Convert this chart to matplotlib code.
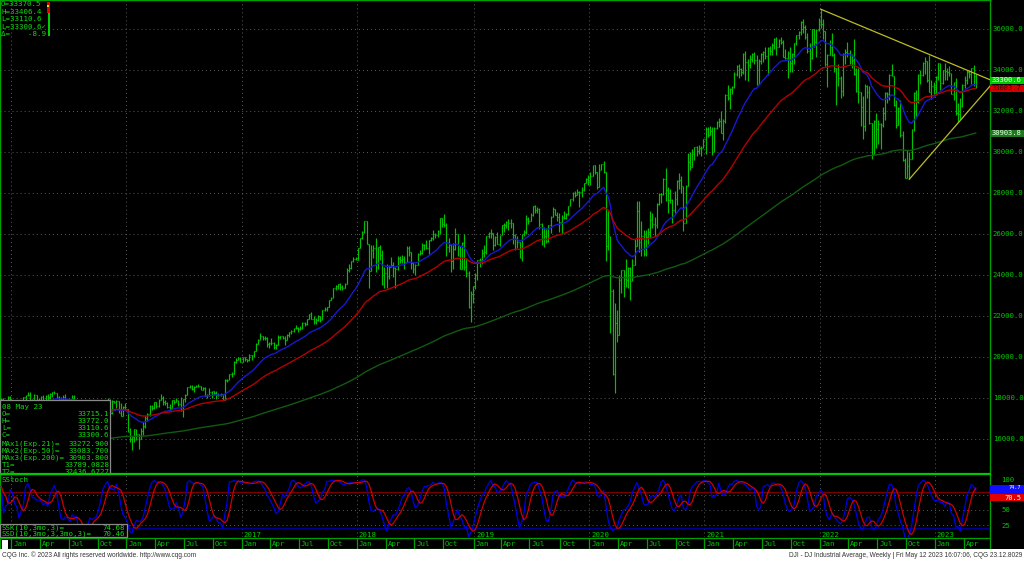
import numpy as np
import pandas as pd
import matplotlib
matplotlib.use("Agg")
import matplotlib.pyplot as plt
import matplotlib.dates as mdates
import matplotlib.transforms as mtrans
from matplotlib.collections import LineCollection
from matplotlib.patches import Rectangle
from matplotlib.lines import Line2D

plt.rcParams["lines.scale_dashes"] = False

# ---------------- data: DJI weekly bars, week of 2014-12-01 .. week of 2023-05-08 ----------------
LAST_WEEK = "2023-05-08"
PRIOR_CLOSE = 17828.0      # close of the week before the first bar
LAST_OPEN = 33715.1        # open of the current week (from the data box)

CLOSE = [
    # Dec 2014
    17958, 17281, 17805, 18053, 17833,
    # 2015
    17737, 17511, 17673, 17165, 17825, 18019, 18140, 18133, 17856, 17749, 18128, 17713, 17763,
    18058, 17826, 18080, 18024, 18191, 18272, 18232, 18011, 17849, 17899, 18015, 17947, 17730,
    17760, 18086, 17568, 17690, 17373, 17477, 16460, 16643, 16102, 16433, 16385, 16315, 16472,
    17084, 17216, 17647, 17664, 17910, 17245, 17824, 17798, 17848, 17265, 17128, 17552, 17425,
    # 2016
    16347, 15988, 16094, 16466, 16205, 15974, 16392, 16640, 17007, 17213, 17602, 17516, 17793,
    17577, 17898, 18004, 17774, 17741, 17535, 17501, 17873, 17807, 17865, 17675, 17401, 17949,
    18147, 18517, 18571, 18432, 18544, 18577, 18553, 18395, 18492, 18086, 18124, 18262, 18308,
    18240, 18138, 18146, 18161, 17888, 18848, 18868, 19153, 19171, 19757, 19843, 19934, 19763,
    # 2017
    19964, 19886, 19827, 20094, 20071, 20269, 20624, 20822, 21005, 20903, 20915, 20597, 20663,
    20656, 20453, 20548, 20941, 21007, 20897, 20805, 21080, 21206, 21272, 21384, 21395, 21350,
    21414, 21638, 21580, 21830, 22093, 21858, 21675, 21814, 21988, 21798, 22268, 22350, 22405,
    22773, 22871, 23329, 23434, 23539, 23422, 23358, 23558, 24231, 24329, 24652, 24754, 24719,
    # 2018
    25295, 25803, 26072, 26617, 25521, 24191, 25219, 25310, 24538, 25336, 24947, 23533, 24103,
    23933, 24360, 24463, 24311, 24263, 24831, 24715, 24753, 24635, 25317, 25090, 24581, 24271,
    24456, 25019, 25058, 25451, 25463, 25313, 25669, 25790, 25965, 25917, 26155, 26744, 26458,
    26447, 25340, 25444, 24688, 25271, 25989, 25413, 24286, 25538, 24389, 24101, 22445, 23062,
    # 2019 (from week of 2018-12-31)
    23433, 23996, 24706, 24737, 25064, 25106, 25883, 26031, 26026, 25450, 25849, 25502, 25929,
    26425, 26412, 26559, 26543, 26505, 25942, 25764, 25586, 24815, 25984, 26090, 26719, 26600,
    26922, 27332, 27154, 27192, 26485, 26287, 25886, 25629, 26403, 26797, 27220, 26935, 26820,
    26573, 26817, 26770, 26958, 27347, 27681, 28005, 27876, 28051, 28015, 28135, 28455, 28645,
    # 2020 (from week of 2019-12-30)
    28634, 28824, 29348, 28990, 28256, 29103, 29398, 28992, 25409, 25865, 23186, 19174, 21637,
    21053, 23719, 24242, 23775, 23724, 24331, 23685, 24465, 25383, 27111, 25606, 25871, 25016,
    25827, 26075, 26672, 26470, 26428, 27433, 27931, 27930, 28654, 28133, 27666, 27657, 27174,
    27683, 28587, 28606, 28336, 26502, 28323, 29480, 29263, 29910, 30218, 30046, 30179, 30200,
    30606,
    # 2021
    31098, 30814, 30997, 29983, 31148, 31458, 31494, 30932, 31496, 32779, 32628, 33072, 33153,
    33801, 34200, 34043, 33875, 34778, 34382, 34208, 34529, 34756, 34480, 33290, 34434, 34786,
    34870, 34688, 35062, 34935, 35209, 35515, 35120, 35456, 35369, 34608, 34584, 34798, 34326,
    34746, 35295, 35677, 35820, 36328, 36100, 35602, 34899, 34580, 35971, 35365, 35951, 36338,
    # 2022
    36231, 35912, 34265, 34725, 35089, 34738, 34079, 34059, 33615, 32945, 34755, 34862, 34818,
    34721, 34451, 33811, 32977, 32899, 32197, 31262, 33213, 32900, 31393, 29888, 31501, 31097,
    31338, 31289, 31899, 32845, 32803, 33761, 33707, 32283, 31318, 32152, 30822, 29590, 28726,
    29297, 29635, 31083, 32862, 32403, 33748, 33746, 34347, 34430, 33476, 32920, 33204, 33147,
    # 2023
    33631, 34303, 33375, 33978, 33926, 33869, 33827, 32817, 33391, 31910, 31862, 32238, 33274,
    33485, 33886, 33809, 34098, 33675, 33300.6,
]

HIGH = [
    17991, 17991, 17840, 18103, 18080,
    17910, 17800, 17900, 17720, 17900, 18030, 18150, 18290, 18260, 17930, 18170, 18140, 18000,
    18070, 18110, 18140, 18175, 18220, 18300, 18351, 18250, 18100, 18050, 18140, 18170, 17960,
    17800, 18130, 18120, 17770, 17700, 17640, 17510, 16660, 16700, 16480, 16930, 16520, 16500,
    17100, 17230, 17680, 17800, 17980, 17920, 17900, 17860, 17900, 17850, 17760, 17600, 17750,
    17420, 16500, 16100, 16490, 16470, 16200, 16500, 16800, 17100, 17230, 17620, 17620, 17800,
    17800, 17950, 18170, 18070, 17900, 17780, 17700, 17900, 17900, 18000, 17860, 18010, 17960,
    18170, 18540, 18620, 18600, 18550, 18640, 18670, 18560, 18500, 18530, 18200, 18450, 18350,
    18340, 18320, 18250, 18250, 18170, 18900, 18930, 19170, 19230, 19770, 19950, 19990, 19990,
    19999, 19980, 19900, 20125, 20090, 20300, 20650, 20850, 21170, 21000, 21000, 20950, 20730,
    20890, 20700, 20620, 21070, 21030, 21020, 21000, 21110, 21220, 21300, 21400, 21530, 21460,
    21480, 21680, 21680, 21850, 22100, 22180, 22000, 21900, 22010, 21990, 22280, 22420, 22420,
    22780, 22900, 23360, 23490, 23560, 23600, 23480, 23600, 24330, 24530, 24670, 24880, 24840,
    25300, 25810, 26150, 26620, 26440, 25520, 25430, 25430, 25800, 25350, 25450, 25200, 24400,
    24500, 24480, 24860, 24640, 24400, 24900, 24900, 24980, 24900, 25400, 25400, 25100, 24600,
    24500, 25060, 25200, 25550, 25500, 25700, 25700, 25850, 26170, 26050, 26170, 26770, 26700,
    26950, 26500, 25800, 25500, 25550, 26280, 26000, 25420, 25600, 25980, 24800, 24200, 23200,
    23470, 24100, 24720, 24800, 25250, 25440, 25900, 26100, 26240, 26000, 25900, 26100, 25950,
    26430, 26500, 26600, 26700, 26700, 26200, 26000, 25900, 25500, 26000, 26200, 26900, 26800,
    27000, 27350, 27400, 27300, 27230, 26500, 26350, 26260, 26440, 26840, 27300, 27200, 27080,
    27000, 26900, 27120, 27000, 27350, 27700, 28050, 28100, 28170, 28100, 28290, 28480, 28700,
    28880, 29010, 29370, 29370, 29000, 29400, 29420, 29568, 28900, 27100, 25900, 23300, 22600,
    22300, 24000, 24250, 24000, 24760, 24400, 24400, 24770, 25760, 27580, 27600, 26600, 26200,
    26200, 26300, 27100, 27000, 26800, 27500, 28000, 28000, 28700, 29200, 28300, 28200, 27700,
    28100, 28600, 28950, 28800, 28300, 28400, 29930, 30000, 30120, 30250, 30300, 30330, 30300,
    30640,
    31190, 31200, 31270, 31200, 31200, 31500, 31650, 32000, 31600, 32800, 33230, 33100, 33200,
    33900, 34250, 34300, 34100, 34810, 34900, 34500, 34700, 34800, 34850, 34700, 34500, 34800,
    34900, 35100, 35100, 35170, 35300, 35560, 35600, 35500, 35600, 35450, 35000, 34900, 35100,
    34800, 35300, 35700, 35900, 36400, 36450, 36180, 35800, 35300, 36000, 36000, 36000, 36530,
    36952, 36450, 35900, 34780, 35450, 35800, 34800, 34100, 34300, 33700, 34800, 35000, 35370,
    34950, 34750, 35500, 34100, 34100, 32900, 32700, 33300, 33250, 33200, 31300, 31550, 31900,
    31530, 31400, 32200, 32900, 32900, 33800, 34280, 33400, 32500, 32200, 32500, 31000, 29700,
    30100, 30000, 31100, 32900, 33000, 33800, 33980, 34400, 34600, 34400, 34700, 33500, 33400,
    33700, 34340, 34300, 34000, 34350, 34100, 34200, 33800, 33400, 33600, 32400, 32600, 33300,
    33700, 34000, 34000, 34100, 34250, 33772.0,
]

LOW = [
    17701, 17271, 17068, 17793, 17730,
    17262, 17136, 17420, 17110, 17037, 17690, 17880, 18080, 17850, 17600, 17740, 17580, 17700,
    17730, 17790, 17800, 17800, 17780, 18020, 18180, 17990, 17800, 17700, 17800, 17890, 17560,
    17460, 17730, 17560, 17400, 17330, 17290, 16450, 15370, 15980, 16100, 16300, 16040, 15940,
    16450, 16860, 17150, 17550, 17650, 17240, 17220, 17720, 17480, 17260, 17120, 17110, 17420,
    16310, 15840, 15450, 15860, 15920, 15500, 16000, 16200, 16500, 16870, 17130, 17420, 17440,
    17480, 17550, 17880, 17660, 17630, 17500, 17330, 17490, 17700, 17800, 17600, 17360, 17060,
    17800, 18140, 18480, 18360, 18280, 18500, 18500, 18360, 18380, 18080, 17990, 18080, 18000,
    18120, 17960, 18080, 18090, 17880, 17900, 18780, 18880, 19000, 19180, 19700, 19850, 19720,
    19780, 19780, 19730, 19780, 19830, 20000, 20300, 20600, 20800, 20800, 20800, 20480, 20410,
    20560, 20400, 20380, 20600, 20860, 20850, 20550, 20800, 20960, 21100, 21200, 21330, 21190,
    21280, 21350, 21500, 21530, 21820, 21840, 21600, 21600, 21740, 21700, 21800, 22230, 22250,
    22420, 22750, 22880, 23230, 23300, 23270, 23240, 23400, 23570, 24130, 24300, 24640, 24700,
    24800, 25280, 25750, 26050, 25490, 23360, 24200, 24800, 24120, 24300, 24700, 23500, 23340,
    23340, 23800, 24400, 23880, 23340, 24250, 24580, 24560, 24300, 24660, 24900, 24270, 24080,
    24000, 24500, 24950, 25000, 25200, 25250, 25000, 25650, 25700, 25800, 25830, 26000, 26350,
    26350, 24900, 25100, 24120, 24280, 25200, 24900, 24270, 24300, 24240, 23880, 22400, 21710,
    22640, 23300, 23750, 24370, 24500, 24880, 25000, 25800, 25800, 25200, 25400, 25480, 25380,
    25980, 26100, 26300, 26200, 26300, 25500, 25200, 25300, 24800, 24680, 25900, 26000, 26450,
    26650, 26850, 27000, 27000, 26250, 25450, 25340, 25570, 25600, 26050, 26800, 26900, 26600,
    26080, 26000, 26700, 26700, 26900, 27400, 27600, 27800, 27870, 27320, 27800, 28100, 28500,
    28400, 28400, 28800, 28900, 28170, 28300, 29100, 28960, 24680, 25200, 21150, 19100, 18213,
    20700, 21100, 23100, 22900, 23400, 23360, 22790, 23700, 24600, 25400, 25130, 24900, 24900,
    24900, 25500, 25800, 26300, 25900, 26300, 27400, 27500, 27900, 27600, 27000, 27500, 26540,
    27000, 27400, 28200, 28000, 26140, 26500, 28400, 29100, 29300, 29600, 29800, 29900, 29800,
    30200,
    29900, 30700, 30800, 29860, 30000, 31100, 31200, 30900, 30550, 31400, 32500, 32100, 32800,
    33100, 33700, 33600, 33700, 33800, 33500, 33470, 34100, 34400, 34300, 33270, 33300, 34300,
    34400, 34500, 33740, 34700, 34700, 35000, 34700, 35100, 35250, 34600, 34500, 33600, 33900,
    33900, 34300, 35200, 35500, 35700, 35800, 35500, 34800, 33950, 34500, 35100, 34600, 35900,
    36050, 35500, 34200, 33150, 34700, 34650, 33900, 32270, 33200, 32630, 32700, 34300, 34600,
    34300, 34100, 33750, 32900, 32400, 31230, 30640, 31000, 32600, 31370, 29650, 29900, 30200,
    30400, 30140, 31200, 31550, 32400, 32500, 33700, 32250, 31160, 31300, 30700, 29560, 28720,
    28700, 28660, 29800, 31000, 31700, 32400, 33300, 33700, 33800, 33400, 32900, 32580, 32800,
    32800, 33500, 33000, 33300, 33500, 33500, 33700, 32800, 32500, 31800, 31430, 31600, 32200,
    33100, 33300, 33600, 33300, 33200, 33110.6,
]

# moving averages: exponential spans and their levels at the left edge of the chart
EMA_SPANS = [21, 50, 200]
EMA_SEEDS = [17500, 17100, 15000]

# trendlines drawn on the chart (date, price)
TREND_UPPER_DATES = ["2022-01-03", "2023-06-22"]
TREND_UPPER_VALUES = [36952, 33510]
TREND_LOWER_DATES = ["2022-10-10", "2023-06-22"]
TREND_LOWER_VALUES = [28660, 33200]

# readouts
QUOTE_LINES = ["O=33370.5", "H=33406.4", "L=33110.6", "L=33300.6\u2713", "\u0394=    -8.9"]
BOX_DATE = "08 May 23"
BOX_LABELS = ["O=", "H=", "L=", "C=", "MAx1(Exp.21)=", "MAx2(Exp.50)=", "MAx3(Exp.200)=", "T1=", "T2="]
BOX_VALUES = ["33715.1", "33772.0", "33110.6", "33300.6", "33272.900", "33083.700", "30903.800",
              "33789.0828", "32436.6727"]
LAST_PRICE = 33300.6
MA2_LAST = 33083.7
MA3_LAST = 30903.8
STOCH_LABELS = ["SSK(10,3mo,3)=", "SSD(10,3mo,3,3mo,3)="]
SSK_LAST = 74.68
SSD_LAST = 70.46
PRICE_TICKS = list(range(16000, 36001, 2000))
STOCH_TICKS = [25, 50, 100]
QUARTER_MONTHS = {1: "Jan", 4: "Apr", 7: "Jul", 10: "Oct"}

# ---------------- derived series ----------------
dates = pd.date_range(end=LAST_WEEK, periods=len(CLOSE), freq="W-MON")
close = pd.Series(CLOSE, index=dates, dtype=float)
opens = close.shift(1)
opens.iloc[0] = PRIOR_CLOSE
opens.iloc[-1] = LAST_OPEN
high = pd.Series(np.maximum(HIGH, np.maximum(opens, close)), index=dates)
low = pd.Series(np.minimum(LOW, np.minimum(opens, close)), index=dates)


def ema(series, span, seed):
    s = pd.concat([pd.Series([float(seed)]), pd.Series(series.values)], ignore_index=True)
    return s.ewm(span=span, adjust=False).mean().iloc[1:].values


emas = [ema(close, n, s) for n, s in zip(EMA_SPANS, EMA_SEEDS)]

# slow stochastic (10, 3, 3): %K smoothed once, %D smoothed twice more
hh = high.rolling(10, min_periods=1).max()
ll = low.rolling(10, min_periods=1).min()
fast_k = 100 * (close - ll) / (hh - ll)
ssk = fast_k.rolling(3, min_periods=1).mean()
ssd = ssk.rolling(3, min_periods=1).mean().rolling(3, min_periods=1).mean()

# ---------------- layout (pixels of a 1024x561 canvas) ----------------
W, H = 1024, 561
PLOT_R = 990
PX_PER_DAY = 0.3164
REF_DATE, REF_PX = "2016-01-04", 127.5
P36K_PX, PX_PER_PT = 28.7, 41.0 / 2000
ST_PX_PER_UNIT = 0.612

GREEN = "#00c800"
TXT = "#10d810"
BAR = "#00c000"
GRID = "#5c5c5c"
DOT = (0, (0.7, 2.2))
MONO = ["DejaVu Sans Mono", "DejaVu Sans"]

fig = plt.figure(figsize=(W / 100, H / 100), dpi=100, facecolor="black")


def fx(px):
    return px / W


def fy(py):
    return 1 - py / H


def axes_px(x0, y0, x1, y1):
    a = fig.add_axes([x0 / W, 1 - y1 / H, (x1 - x0) / W, (y1 - y0) / H])
    a.set_facecolor("black")
    return a


ax = axes_px(0, 0, PLOT_R, 472)
axs = axes_px(0, 475, PLOT_R, 537)
axm = axes_px(0, 538, PLOT_R, 549)

ref = mdates.date2num(pd.Timestamp(REF_DATE))
xlim = (ref - REF_PX / PX_PER_DAY, ref + (PLOT_R - REF_PX) / PX_PER_DAY)
for a in (ax, axs, axm):
    a.set_xlim(*xlim)

ax.set_ylim(36000 - (472 - P36K_PX) / PX_PER_PT, 36000 + P36K_PX / PX_PER_PT)
axs.set_ylim(5.7, 107)
axm.set_ylim(0, 1)

x = mdates.date2num(dates)
d = pd.Series(dates)
first_bars = d.groupby([d.dt.year, d.dt.month]).first()
sep = 3.5
year_ticks = [mdates.date2num(t) - sep for (yy, mm), t in first_bars.items() if mm == 1]
quarter_ticks = [(mdates.date2num(t) - sep, QUARTER_MONTHS[mm], yy)
                 for (yy, mm), t in first_bars.items() if mm in QUARTER_MONTHS]

# ---------------- main price panel ----------------
ax.set_yticks(PRICE_TICKS)
ax.set_yticklabels([f"{t:.1f}" for t in PRICE_TICKS])
ax.set_xticks(year_ticks)
ax.yaxis.tick_right()
ax.tick_params(axis="y", length=0, pad=2.0, labelsize=5.2, labelcolor=GREEN, labelfontfamily="DejaVu Sans Mono")
ax.tick_params(axis="x", length=0, labelbottom=False)
ax.grid(True, color=GRID, linestyle=DOT, linewidth=0.7)
ax.set_axisbelow(True)
for side, sp in ax.spines.items():
    sp.set_color("#00a000")
    sp.set_linewidth(1.0)
ax.spines["bottom"].set_visible(False)

k = 2.6
hl = [[(xi, lo), (xi, hi)] for xi, lo, hi in zip(x, low, high)]
ot = [[(xi - k, o), (xi, o)] for xi, o in zip(x, opens)]
ct = [[(xi, c), (xi + k, c)] for xi, c in zip(x, close)]
ax.add_collection(LineCollection(hl + ot + ct, colors=BAR, linewidths=0.85, zorder=3))

for vals, col in zip(emas, ["#1818d0", "#b40000", "#115a11"]):
    ax.plot(x, vals, color=col, lw=1.0, zorder=4)

for dts, vals in [(TREND_UPPER_DATES, TREND_UPPER_VALUES), (TREND_LOWER_DATES, TREND_LOWER_VALUES)]:
    ax.plot(mdates.date2num(pd.to_datetime(dts)), vals, color="#bcbc24", lw=0.9, zorder=5)

# ---------------- stochastic panel ----------------
axs.set_xticks(year_ticks)
axs.set_yticks(STOCH_TICKS)
axs.set_yticklabels([str(t) for t in STOCH_TICKS])
axs.yaxis.tick_right()
axs.tick_params(axis="y", length=0, pad=8, labelsize=5.2, labelcolor=GREEN, labelfontfamily="DejaVu Sans Mono")
axs.tick_params(axis="x", length=0, labelbottom=False)
axs.grid(True, axis="x", color=GRID, linestyle=DOT, linewidth=0.7)
for lvl in (25, 50, 75):
    axs.axhline(lvl, color=GRID, linestyle=DOT, linewidth=0.7, zorder=1)
axs.axhline(80, color="#7a0000", lw=0.9, zorder=2)
axs.axhline(20, color="#00008c", lw=0.9, zorder=2)
axs.plot(x, ssk.values, color="#0000e6", lw=0.9, zorder=3)
axs.plot(x, ssd.values, color="#cc0000", lw=0.9, zorder=4)
for side, sp in axs.spines.items():
    sp.set_color("#00a000")
    sp.set_linewidth(1.0)
axs.spines["top"].set_visible(False)
axs.spines["bottom"].set_visible(False)

# ---------------- month strip ----------------
axm.set_xticks([])
axm.set_yticks([])
for sp in axm.spines.values():
    sp.set_color("#00a000")
    sp.set_linewidth(0.9)
for xt, lab, yy in quarter_ticks:
    axm.axvline(xt, color="#00a000", lw=0.9)
    axm.text(xt + 6, 0.45, lab, color=GREEN, fontsize=5.3, family=MONO, va="center", ha="left")

# year labels at the bottom of the stochastic panel (the first one sits under the readout box)
STOCH_BOX_R = 127
blend_s = mtrans.blended_transform_factory(axs.transData, fig.transFigure)
for xt, lab, yy in quarter_ticks:
    px = (xt - xlim[0]) * PX_PER_DAY
    if lab == "Jan" and px > STOCH_BOX_R:
        fig.text(xt + 6, fy(535), str(yy), transform=blend_s, color=GREEN, fontsize=5.3,
                 family=MONO, va="center", ha="left", zorder=3)

# separator between panels (drawn over the data box)
fig.add_artist(Line2D([0, fx(PLOT_R)], [fy(473.6)] * 2, color=GREEN, lw=1.6, zorder=10))

# ---------------- right-hand value boxes ----------------
blend_p = mtrans.blended_transform_factory(fig.transFigure, ax.transData)
hp = 7 / PX_PER_PT
for val, fc, tc, nudge in [(MA2_LAST, "#d40000", "#300000", 0),
                           (LAST_PRICE, "#00c800", "#f0fff0", -4),
                           (MA3_LAST, "#1f7a1f", "#e8ffe8", 0)]:
    yc = val - nudge / PX_PER_PT
    fig.add_artist(Rectangle((fx(PLOT_R), yc - hp / 2), 1 - fx(PLOT_R), hp, transform=blend_p,
                             fc=fc, ec="none", zorder=6))
    fig.text(fx(PLOT_R + 2), yc, f"{val:.1f}", transform=blend_p, color=tc, fontsize=5.1,
             family=MONO, va="center", ha="left", zorder=7)

# stochastic value boxes: the red %D box is laid over the blue %K box,
# whose label peeks out above it
blend_st = mtrans.blended_transform_factory(fig.transFigure, axs.transData)
hs = 7.4 / ST_PX_PER_UNIT
k_top = SSK_LAST + 9.5 / ST_PX_PER_UNIT
fig.add_artist(Rectangle((fx(PLOT_R), SSD_LAST), 1 - fx(PLOT_R), k_top - SSD_LAST, transform=blend_st,
                         fc="#1010ff", ec="none", zorder=6))
fig.text(fx(1021), k_top - 2.4 / ST_PX_PER_UNIT, f"{SSK_LAST:.1f}", transform=blend_st, color="white",
         fontsize=3.8, family=MONO, va="center", ha="right", zorder=7)
fig.add_artist(Rectangle((fx(PLOT_R), SSD_LAST - hs / 2), 1 - fx(PLOT_R), hs, transform=blend_st,
                         fc="#e00000", ec="none", zorder=8))
fig.text(fx(1021), SSD_LAST - 0.6 / ST_PX_PER_UNIT, f"{SSD_LAST:.1f}", transform=blend_st, color="white",
         fontsize=5.0, family=MONO, va="center", ha="right", zorder=9)

# ---------------- readout boxes ----------------
for i, line in enumerate(QUOTE_LINES):
    fig.text(fx(1), fy(4.5 + 7.4 * i), line, color=TXT, fontsize=5.4, family=MONO, va="center", ha="left")
fig.add_artist(Rectangle((fx(46.7), fy(13.3)), fx(3.3), 11.3 / H, fc="#e00000", ec="none", zorder=4))
fig.add_artist(Rectangle((fx(47.7), fy(36)), fx(2.3), 22.7 / H, fc="#00d000", ec="none", zorder=4))
fig.add_artist(Rectangle((fx(46.5), fy(7)), fx(2), 2 / H, fc="#e0e000", ec="none", zorder=5))

fig.add_artist(Rectangle((0, fy(474)), fx(110), 74 / H, fc="black", ec="#8a8a8a", lw=0.9, zorder=8))
fig.text(fx(2), fy(407), BOX_DATE, color=TXT, fontsize=5.4, family=MONO, va="center", zorder=9)
box_rows = [414, 421, 428, 435, 444, 451, 458, 465, 472]
for yy, lab, val in zip(box_rows, BOX_LABELS, BOX_VALUES):
    fig.text(fx(2), fy(yy), lab, color=TXT, fontsize=5.4, family=MONO, va="center", zorder=9)
    fig.text(fx(109), fy(yy), val, color=TXT, fontsize=5.4, family=MONO, va="center", ha="right", zorder=9)

fig.text(fx(2), fy(479.5), "SStoch", color=TXT, fontsize=5.4, family=MONO, va="center", zorder=9)
fig.add_artist(Rectangle((0, fy(537)), fx(STOCH_BOX_R), 13 / H, fc="black", ec="#8a8a8a", lw=0.9, zorder=8))
for yy, lab, val in zip([527.5, 534], STOCH_LABELS, [SSK_LAST, SSD_LAST]):
    fig.text(fx(2), fy(yy), lab, color=TXT, fontsize=5.4, family=MONO, va="center", zorder=9)
    fig.text(fx(125), fy(yy), f"{val:.2f}", color=TXT, fontsize=5.4, family=MONO, va="center",
             ha="right", zorder=9)

fig.add_artist(Rectangle((fx(2), fy(549)), fx(6), 9 / H, fc="white", ec="none", zorder=8))

# ---------------- footer ----------------
fig.add_artist(Rectangle((0, 0), 1, 12 / H, fc="white", ec="none", zorder=1))
fig.text(fx(2), fy(555.5), "CQG Inc. \u00a9 2023 All rights reserved worldwide. http://www.cqg.com",
         color="#333333", fontsize=4.7, family="Liberation Sans", va="center", ha="left", zorder=2)
fig.text(fx(1022), fy(555.5),
         "DJI - DJ Industrial Average, Weekly | Fri May 12 2023 16:07:06, CQG 23.12.8029",
         color="#333333", fontsize=4.7, family="Liberation Sans", va="center", ha="right", zorder=2)

fig.savefig("out.png", dpi=100, facecolor="black")
